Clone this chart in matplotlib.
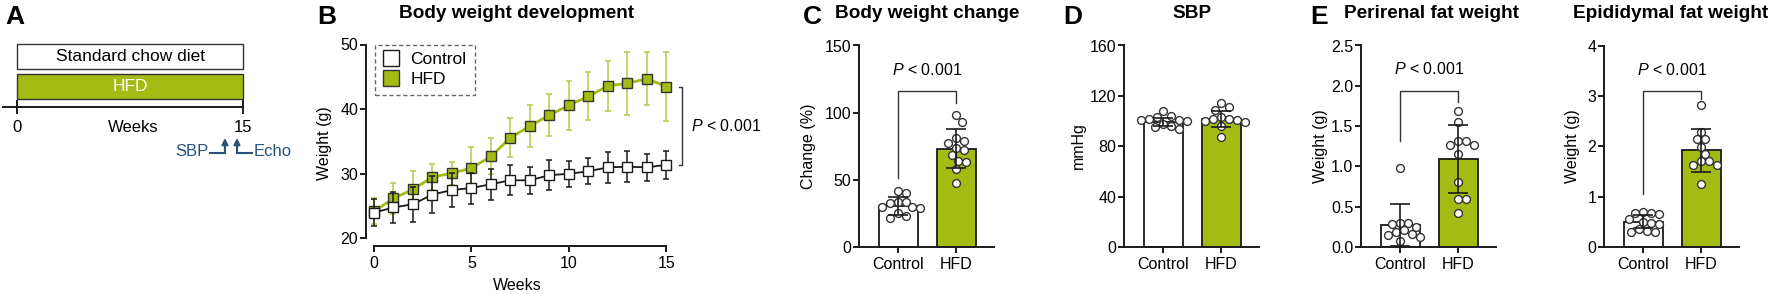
import numpy as np
import matplotlib
matplotlib.use("Agg")
import matplotlib.pyplot as plt
from matplotlib.lines import Line2D
from matplotlib.patches import Rectangle

plt.rcParams['font.family'] = ['Liberation Sans', 'DejaVu Sans']
plt.rcParams['mathtext.fontset'] = 'custom'
plt.rcParams['mathtext.rm'] = 'Liberation Sans'
plt.rcParams['mathtext.it'] = 'Liberation Sans:italic'

# ---------------- data ----------------
weeks = list(range(16))
ctrl_mean = [24.0, 24.8, 25.3, 26.8, 27.5, 27.8, 28.4, 29.0, 29.0, 29.8, 30.0, 30.4, 31.0, 31.1, 31.0, 31.4]
ctrl_sd = [2.1, 2.4, 2.7, 2.8, 2.6, 2.4, 2.4, 2.3, 2.1, 2.3, 2.0, 2.0, 2.4, 2.4, 2.1, 2.2]
hfd_mean = [24.2, 26.2, 27.6, 29.5, 30.1, 30.9, 32.7, 35.6, 37.4, 39.1, 40.6, 42.0, 43.6, 44.0, 44.7, 43.5]
hfd_sd = [2.0, 2.4, 2.8, 2.0, 1.8, 3.2, 2.8, 3.0, 3.3, 3.3, 3.8, 3.7, 3.9, 4.9, 4.1, 5.3]

groups = ["Control", "HFD"]

change_mean = [30.7, 73.3]
change_sd = [6.7, 14.8]
change_ctrl_pts = [41.8, 40.3, 33.6, 33.6, 33.0, 29.5, 29.5, 28.8, 25.0, 23.0, 21.3]
change_hfd_pts = [98.0, 93.1, 81.2, 78.7, 77.5, 74.0, 72.5, 68.3, 63.9, 63.4, 57.7, 47.3]

sbp_mean = [99.2, 101.6]
sbp_sd = [3.0, 6.6]
sbp_ctrl_pts = [108, 104, 103, 102, 101, 100.5, 100, 98, 96, 95, 94]
sbp_hfd_pts = [114, 111, 109, 103, 102, 101.5, 101, 100, 99, 96, 87]

peri_mean = [0.27, 1.09]
peri_sd = [0.26, 0.42]
peri_ctrl_pts = [0.98, 0.30, 0.30, 0.28, 0.25, 0.21, 0.19, 0.16, 0.15, 0.12, 0.07]
peri_hfd_pts = [1.69, 1.55, 1.31, 1.31, 1.27, 1.27, 1.16, 0.81, 0.59, 0.59, 0.42]

epi_mean = [0.50, 1.92]
epi_sd = [0.13, 0.43]
epi_ctrl_pts = [0.70, 0.68, 0.67, 0.66, 0.55, 0.50, 0.48, 0.45, 0.35, 0.32, 0.30, 0.30]
epi_hfd_pts = [2.82, 2.29, 2.15, 2.14, 1.99, 1.85, 1.71, 1.70, 1.62, 1.62, 1.26]

# ---------------- style ----------------
W, H = 1772, 294
DPI = 100
GREEN = '#a3bb12'
GREEN_ERR = '#b7ca45'
DARK = '#1a1a1a'
BLUE = '#27527d'
SPW = 1.4
TICK_FS = 11.5
PTXT = r'$\mathit{P}$ < 0.001'

fig = plt.figure(figsize=(W / DPI, H / DPI), dpi=DPI)


def add_ax(left, top, right, bottom):
    return fig.add_axes([left / W, 1 - bottom / H, (right - left) / W, (bottom - top) / H])


def ftext(x, y, s, **kw):
    fig.text(x / W, 1 - y / H, s, **kw)


def style_axes(ax):
    for s in ['top', 'right']:
        ax.spines[s].set_visible(False)
    for s in ['left', 'bottom']:
        ax.spines[s].set_linewidth(SPW)
        ax.spines[s].set_color(DARK)
    ax.tick_params(width=SPW, length=4, color=DARK, labelsize=TICK_FS, pad=1.5)
    ax.patch.set_alpha(0)


def swarm(ax, xc, vals, diam=8.0):
    pts = ax.transData.transform([(xc, v) for v in vals])
    x0 = pts[0, 0]
    ys = pts[:, 1]
    order = np.argsort(-np.asarray(vals))
    placed = []
    offs = np.zeros(len(vals))
    cands = [0.0]
    for k in range(1, 40):
        cands += [k * 0.5, -k * 0.5]
    for i in order:
        for c in cands:
            px = c * diam * 0.5
            ok = all((px - p[0]) ** 2 + (ys[i] - p[1]) ** 2 >= diam ** 2 for p in placed)
            if ok:
                placed.append((px, ys[i]))
                offs[i] = px
                break
    inv = ax.transData.inverted()
    xs = [inv.transform((x0 + o, ys[j]))[0] for j, o in enumerate(offs)]
    return xs


def bar_panel(left, ylim, yticks, fmt, means, sds, pts_c, pts_h, bracket=None):
    ax = add_ax(left, 45.5, left + 134.6, 247)
    style_axes(ax)
    ax.set_xlim(-0.68, 1.64)
    ax.set_ylim(*ylim)
    ax.set_yticks(yticks)
    ax.set_yticklabels([fmt.format(t) for t in yticks])
    ax.set_xticks([0, 1])
    ax.set_xticklabels(groups)
    ax.tick_params(axis='x', pad=3)
    ax.bar([0, 1], means, width=0.665, color=['white', GREEN], edgecolor=DARK,
           linewidth=1.3, zorder=2)
    for i, pts in enumerate([pts_c, pts_h]):
        xs = swarm(ax, i, pts)
        ax.scatter(xs, pts, s=32, facecolor='white', edgecolor='#333333',
                   linewidth=1.0, zorder=4, clip_on=False)
    ax.errorbar([0, 1], means, yerr=sds, fmt='none', ecolor=DARK, elinewidth=1.2,
                capsize=7, capthick=1.2, zorder=5)
    if bracket is not None:
        lb, top, rb, ty = bracket
        ax.plot([0, 0, 1, 1], [lb, top, top, rb], color='#333333', lw=1.0,
                zorder=3, clip_on=False)
        ax.text(0.5, ty, PTXT, ha='center', va='center', fontsize=11.5)
    return ax


# ---------------- Panel A ----------------
axA = add_ax(0, 30, 300, 170)
axA.set_xlim(-1.128, 18.78)
axA.set_ylim(170, 30)
axA.axis('off')
axA.add_patch(Rectangle((0, 44), 15, 25, facecolor='white', edgecolor='#333333', lw=1.0))
axA.add_patch(Rectangle((0, 74), 15, 25, facecolor=GREEN, edgecolor='#333333', lw=1.0))
axA.text(7.5, 56.5, 'Standard chow diet', ha='center', va='center', fontsize=12.5)
axA.text(7.5, 86.5, 'HFD', ha='center', va='center', fontsize=12.5, color='white')
axA.plot([-0.93, 15], [107, 107], color=DARK, lw=1.4)
axA.plot([0, 0], [101, 113], color=DARK, lw=1.4)
axA.plot([15, 15], [101, 113], color=DARK, lw=1.4)
axA.text(0, 127, '0', ha='center', va='center', fontsize=12)
axA.text(7.7, 127, 'Weeks', ha='center', va='center', fontsize=12)
axA.text(15, 127, '15', ha='center', va='center', fontsize=12)
axA.text(12.7, 151, 'SBP', ha='right', va='center', fontsize=12, color=BLUE)
axA.plot([12.8, 13.8], [152.5, 152.5], color=BLUE, lw=1.5)
axA.annotate('', xy=(13.8, 138), xytext=(13.8, 153.2),
             arrowprops=dict(arrowstyle='-|>', color=BLUE, lw=1.5, mutation_scale=9,
                             shrinkA=0, shrinkB=0))
axA.plot([14.6, 15.6], [152.5, 152.5], color=BLUE, lw=1.5)
axA.annotate('', xy=(14.6, 138), xytext=(14.6, 153.2),
             arrowprops=dict(arrowstyle='-|>', color=BLUE, lw=1.5, mutation_scale=9,
                             shrinkA=0, shrinkB=0))
axA.text(15.7, 151, 'Echo', ha='left', va='center', fontsize=12, color=BLUE)

# ---------------- Panel B ----------------
axB = add_ax(366, 44.5, 676, 238.5)
style_axes(axB)
axB.set_xlim(-0.41, 15.49)
axB.set_ylim(20, 50)
axB.spines['bottom'].set_position(('outward', 5.5))
axB.spines['bottom'].set_bounds(0, 15)
axB.spines['left'].set_bounds(20, 50)
axB.set_xticks([0, 5, 10, 15])
axB.set_yticks([20, 30, 40, 50])
axB.tick_params(axis='x', pad=3)
axB.errorbar(weeks, hfd_mean, yerr=hfd_sd, fmt='none', ecolor=GREEN_ERR,
             elinewidth=1.1, capsize=2, capthick=1.1, zorder=2)
axB.plot(weeks, hfd_mean, color=GREEN, lw=2.0, zorder=3)
axB.plot(weeks, hfd_mean, ls='none', marker='s', ms=7, mfc=GREEN, mec='#333333',
         mew=1.0, zorder=4)
axB.errorbar(weeks, ctrl_mean, yerr=ctrl_sd, fmt='none', ecolor=DARK,
             elinewidth=1.1, capsize=2, capthick=1.1, zorder=5)
axB.plot(weeks, ctrl_mean, color=DARK, lw=1.3, zorder=6)
axB.plot(weeks, ctrl_mean, ls='none', marker='s', ms=7, mfc='white', mec=DARK,
         mew=1.0, zorder=7)
axB.plot([15.65, 15.8, 15.8, 15.65], [ctrl_mean[-1], ctrl_mean[-1], hfd_mean[-1], hfd_mean[-1]],
         color='#333333', lw=1.0, clip_on=False)
axB.text(16.25, (ctrl_mean[-1] + hfd_mean[-1]) / 2, PTXT, ha='left', va='center',
         fontsize=11.5, clip_on=False)
handles = [Line2D([], [], ls='none', marker='s', ms=11, mfc='white', mec=DARK, mew=1.0),
           Line2D([], [], ls='none', marker='s', ms=11, mfc=GREEN, mec='#333333', mew=1.0)]
leg = axB.legend(handles, groups, loc='upper left', bbox_to_anchor=(0.029, 1.0),
                 borderaxespad=0, fontsize=12.5, handlelength=1.0, handletextpad=0.6,
                 labelspacing=0.25, borderpad=0.45, fancybox=False, framealpha=1)
leg.get_frame().set_linestyle((0, (3, 2)))
leg.get_frame().set_edgecolor('#666666')
leg.get_frame().set_linewidth(1.0)

# ---------------- Panels C, D, E ----------------
bar_panel(859, (0, 150), [0, 50, 100, 150], '{:g}', change_mean, change_sd,
          change_ctrl_pts, change_hfd_pts, bracket=(51.7, 115.8, 107.2, 131.4))
bar_panel(1124, (0, 160), [0, 40, 80, 120, 160], '{:g}', sbp_mean, sbp_sd,
          sbp_ctrl_pts, sbp_hfd_pts)
bar_panel(1361, (0, 2.5), [0, 0.5, 1.0, 1.5, 2.0, 2.5], '{:.1f}', peri_mean, peri_sd,
          peri_ctrl_pts, peri_hfd_pts, bracket=(1.31, 1.94, 1.80, 2.21))
bar_panel(1604, (0, 4), [0, 1, 2, 3, 4], '{:g}', epi_mean, epi_sd,
          epi_ctrl_pts, epi_hfd_pts, bracket=(1.06, 3.10, 2.94, 3.52))

# ---------------- titles, labels, letters ----------------
TFS = 13.7
ftext(517, 13, 'Body weight development', ha='center', va='center', fontsize=TFS, weight='bold')
ftext(927, 13, 'Body weight change', ha='center', va='center', fontsize=TFS, weight='bold')
ftext(1192, 13, 'SBP', ha='center', va='center', fontsize=TFS, weight='bold')
ftext(1432, 13, 'Perirenal fat weight', ha='center', va='center', fontsize=TFS, weight='bold')
ftext(1671, 13, 'Epididymal fat weight', ha='center', va='center', fontsize=TFS, weight='bold')

LFS = 19
for x, s in [(15, 'A'), (327, 'B'), (812, 'C'), (1073, 'D'), (1319, 'E')]:
    ftext(x, 17, s, ha='center', va='center', fontsize=LFS, weight='bold')

ftext(517, 285, 'Weeks', ha='center', va='center', fontsize=11.5)
ftext(325, 143, 'Weight (g)', ha='center', va='center', rotation=90, fontsize=11.5)
ftext(809, 146, 'Change (%)', ha='center', va='center', rotation=90, fontsize=11.5)
ftext(1078, 146, 'mmHg', ha='center', va='center', rotation=90, fontsize=11.5)
ftext(1320, 146, 'Weight (g)', ha='center', va='center', rotation=90, fontsize=11.5)
ftext(1572, 146, 'Weight (g)', ha='center', va='center', rotation=90, fontsize=11.5)

fig.savefig('out.png', dpi=DPI)
